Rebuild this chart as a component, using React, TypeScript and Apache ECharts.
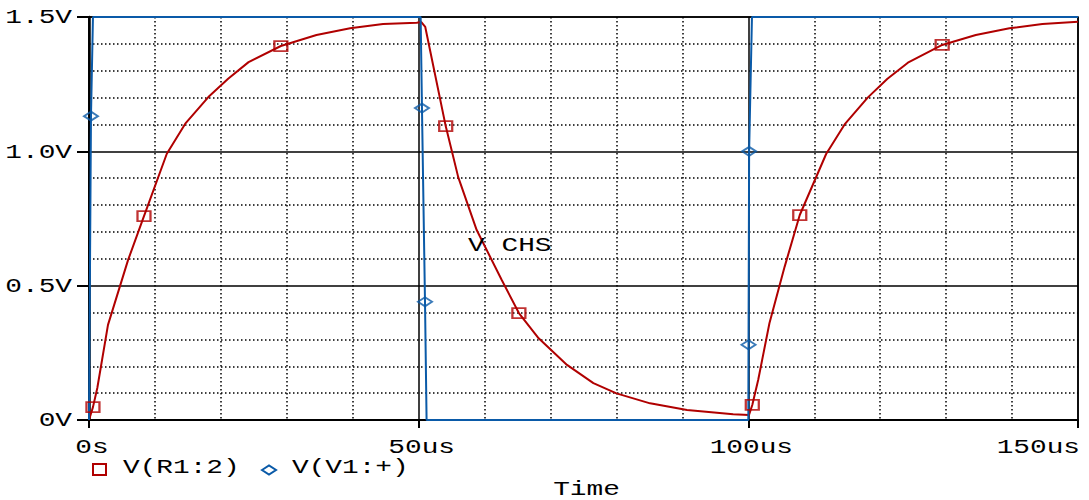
import React, { useEffect, useRef } from 'react';
import * as echarts from 'echarts';

const X_TICKS = [0, 50, 100, 150];
const X_TICK_LABELS = ['0s', '50us', '100us', '150us'];
const Y_TICKS = [0, 0.5, 1.0, 1.5];
const Y_TICK_LABELS = ['0V', '0.5V', '1.0V', '1.5V'];
const X_TITLE = 'Time';

const RED_NAME = 'V(R1:2)';
const BLUE_NAME = 'V(V1:+)';

// V(R1:2) trace (time in us, volts)
const RED_T = [0, 0.6, 1.26, 2.88, 5.92, 8.34, 11.8, 14.6, 18.1, 21.1, 24.2, 29.1, 34.5, 39.6, 44.6, 49.7, 50.4,
  51.0, 54.1, 56.0, 58.8, 62.6, 65.2, 68.2, 72.5, 76.5, 80.0, 85.1, 90.7, 97.7, 100.1,
  100.6, 101.5, 103.2, 105.5, 107.8, 111.8, 114.6, 118.1, 121.1, 124.2, 129.4, 134.5, 139.6, 144.6, 150];
const RED_V = [0, 0.048, 0.119, 0.354, 0.595, 0.759, 0.991, 1.103, 1.202, 1.27, 1.332, 1.392, 1.433, 1.458, 1.474, 1.479, 1.481,
  1.463, 1.094, 0.904, 0.707, 0.521, 0.398, 0.304, 0.205, 0.137, 0.099, 0.062, 0.037, 0.021, 0.019,
  0.056, 0.15, 0.36, 0.57, 0.763, 0.99, 1.1, 1.2, 1.27, 1.33, 1.396, 1.433, 1.458, 1.474, 1.482];
const RED_MARK_T = [0.6, 8.34, 29.1, 54.1, 65.2, 100.6, 107.8, 129.4];
const RED_MARK_V = [0.048, 0.759, 1.392, 1.094, 0.398, 0.056, 0.763, 1.396];

// V(V1:+) trace
const BLUE_T = [0, 0.3, 0.6, 50.3, 50.5, 50.96, 51.2, 100, 100.03, 100.12, 100.55, 150];
const BLUE_V = [0, 1.131, 1.5, 1.5, 1.161, 0.44, 0, 0, 0.28, 1.0, 1.5, 1.5];
const BLUE_MARK_T = [0.3, 50.5, 50.96, 100.03, 100.12];
const BLUE_MARK_V = [1.131, 1.161, 0.44, 0.28, 1.0];

const NOTE_TEXT = 'V CHS';
const NOTE_T = 57.5;
const NOTE_V = 0.648;

const RED = '#b00000';
const BLUE = '#0a5aa8';
const FONT = '20px "Liberation Mono", "DejaVu Sans Mono", monospace';
const SX = 1.39;

const zip = (a: number[], b: number[]) => a.map((v, i) => [v, b[i]]);

function txt(text: string, x: number, y: number, align: string, vAlign: string) {
  return {
    type: 'text',
    x,
    y,
    scaleX: SX,
    silent: true,
    z: 100,
    style: {
      text,
      fill: '#000',
      font: FONT,
      align,
      verticalAlign: vAlign,
      textAlign: align,
      textVerticalAlign: vAlign,
    },
  };
}

export default function App() {
  const ref = useRef<HTMLDivElement>(null);
  useEffect(() => {
    if (!ref.current) return;
    const chart = echarts.init(ref.current, null, { renderer: 'svg' });
    const option: any = {
      animation: false,
      backgroundColor: '#fff',
      grid: {
        left: 89,
        right: 11,
        top: 17,
        bottom: 80,
        show: true,
        borderColor: '#000',
        borderWidth: 1.5,
        backgroundColor: 'transparent',
      },
      xAxis: {
        type: 'value',
        min: 0,
        max: 150,
        interval: 50,
        axisLine: { show: true, onZero: false, lineStyle: { color: '#000', width: 2 } },
        axisTick: { show: true, length: 8, lineStyle: { color: '#000', width: 2 } },
        axisLabel: { show: false },
        splitLine: { show: true, lineStyle: { color: '#000', width: 1.5 } },
        minorTick: { show: false, splitNumber: 5 },
        minorSplitLine: { show: true, lineStyle: { color: '#000', width: 1.5, type: [1.5, 2.5] } },
      },
      yAxis: {
        type: 'value',
        min: 0,
        max: 1.5,
        interval: 0.5,
        axisLine: { show: true, onZero: false, lineStyle: { color: '#000', width: 2.5 } },
        axisTick: { show: true, length: 12, lineStyle: { color: '#000', width: 2 } },
        axisLabel: { show: false },
        splitLine: { show: true, lineStyle: { color: '#000', width: 1.5 } },
        minorTick: { show: false, splitNumber: 5 },
        minorSplitLine: { show: true, lineStyle: { color: '#000', width: 1.5, type: [1.5, 2.5] } },
      },
      series: [
        {
          name: RED_NAME,
          type: 'line',
          data: zip(RED_T, RED_V),
          showSymbol: false,
          symbol: 'none',
          clip: false,
          lineStyle: { color: RED, width: 2 },
          z: 3,
        },
        {
          name: BLUE_NAME,
          type: 'line',
          data: zip(BLUE_T, BLUE_V),
          showSymbol: false,
          symbol: 'none',
          clip: false,
          lineStyle: { color: BLUE, width: 2 },
          z: 4,
        },
        {
          name: RED_NAME + ' markers',
          type: 'scatter',
          data: zip(RED_MARK_T, RED_MARK_V),
          symbol: 'rect',
          symbolSize: [13, 10],
          itemStyle: { color: 'rgba(0,0,0,0)', borderColor: RED, borderWidth: 2 },
          z: 5,
        },
        {
          name: BLUE_NAME + ' markers',
          type: 'scatter',
          data: zip(BLUE_MARK_T, BLUE_MARK_V),
          symbol: 'diamond',
          symbolSize: [14, 9],
          itemStyle: { color: 'rgba(0,0,0,0)', borderColor: BLUE, borderWidth: 2 },
          z: 6,
        },
      ],
    };
    chart.setOption(option);

    const g: any[] = [];
    X_TICKS.forEach((v, i) => {
      const p = chart.convertToPixel({ gridIndex: 0 }, [v, 0]) as number[];
      const last = i === X_TICKS.length - 1;
      g.push(txt(X_TICK_LABELS[i], last ? p[0] + 2 : p[0] + 3, p[1] + 18, last ? 'right' : 'center', 'top'));
    });
    Y_TICKS.forEach((v, i) => {
      const p = chart.convertToPixel({ gridIndex: 0 }, [0, v]) as number[];
      g.push(txt(Y_TICK_LABELS[i], p[0] - 17, p[1] + 1, 'right', 'middle'));
    });
    const mid = chart.convertToPixel({ gridIndex: 0 }, [75, 0]) as number[];
    g.push(txt(X_TITLE, mid[0] + 3, 490, 'center', 'middle'));
    const note = chart.convertToPixel({ gridIndex: 0 }, [NOTE_T, NOTE_V]) as number[];
    g.push(txt(NOTE_TEXT, note[0], note[1], 'left', 'middle'));

    // legend
    g.push({
      type: 'rect',
      shape: { x: 93, y: 464, width: 13, height: 11 },
      style: { fill: 'none', stroke: RED, lineWidth: 2 },
      z: 100,
    });
    g.push(txt(RED_NAME, 123, 468, 'left', 'middle'));
    g.push({
      type: 'polygon',
      shape: { points: [[262, 470], [269, 465.5], [276, 470], [269, 474.5]] },
      style: { fill: 'none', stroke: BLUE, lineWidth: 2 },
      z: 100,
    });
    g.push(txt(BLUE_NAME, 292, 468, 'left', 'middle'));

    chart.setOption({ graphic: g });

    return () => chart.dispose();
  }, []);
  return (
    <div
      ref={ref}
      style={{ position: 'absolute', left: 0, top: 0, width: 1089, height: 500, background: '#fff' }}
    />
  );
}
